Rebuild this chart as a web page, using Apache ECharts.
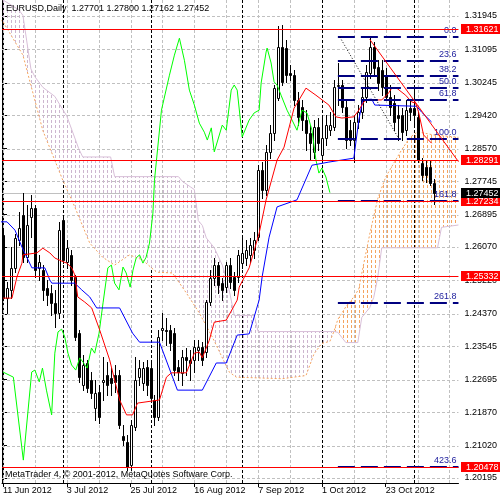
<!DOCTYPE html>
<html><head><meta charset="utf-8">
<script src="https://cdn.jsdelivr.net/npm/echarts@6/dist/echarts.min.js"></script>
<style>html,body{margin:0;padding:0;background:#fff}#c{width:500px;height:500px}</style>
</head><body><div id="c"></div>
<script>
// ---- DATA ----
const symbolTitle = 'EURUSD,Daily  1.27701 1.27800 1.27162 1.27452';
const copyright = 'MetaTrader 4, \u00A9 2001-2012, MetaQuotes Software Corp.';
const dateTickIdx = [0, 16, 32, 48, 64, 80, 96];
const dateTickText = ['11 Jun 2012','3 Jul 2012','25 Jul 2012','16 Aug 2012','7 Sep 2012','1 Oct 2012','23 Oct 2012'];
const priceTicks = [1.31945,1.31095,1.30245,1.29420,1.28570,1.27745,1.26895,1.26070,1.25220,1.24370,1.23545,1.22695,1.21870,1.21020,1.20195];
const monthSeparators = [15, 37, 60, 80, 103];
const gridVerticals = [0,8,16,24,32,40,48,56,64,72,80,88,96,104,112];

const opens = [1.2637,1.2477,1.2498,1.2554,1.2625,1.2688,1.2581,1.2683,1.2706,1.2554,
 1.2548,1.2503,1.2490,1.2465,1.2439,1.2676,1.2569,1.2587,1.2531,1.2388,
 1.2256,1.2312,1.2269,1.2198,1.2238,1.2264,1.2281,1.2274,1.2281,1.2281,
 1.2126,1.2111,1.2053,1.2149,1.2276,1.2261,1.2302,1.2299,1.2218,1.2175,
 1.2396,1.2396,1.2396,1.2388,1.2302,1.2287,1.2327,1.2320,1.2320,1.2345,
 1.2353,1.2340,1.2467,1.2528,1.2561,1.2515,1.2505,1.2561,1.2531,1.2531,
 1.2566,1.2579,1.2587,1.2599,1.2632,1.2803,1.2752,1.2849,1.2897,1.2986,
 1.3116,1.3113,1.3049,1.3044,1.2981,1.2963,1.2930,1.2897,1.2849,1.2912,
 1.2841,1.2884,1.2904,1.2912,1.3016,1.3019,1.2963,1.2904,1.2879,1.2925,
 1.2950,1.2988,1.3049,1.3116,1.3065,1.3057,1.3044,1.2988,1.2973,1.2943,
 1.2943,1.2904,1.2960,1.2960,1.2938,1.2821,1.2810,1.2810,1.27701];
const closes = [1.2477,1.2503,1.2554,1.2630,1.2655,1.2581,1.2663,1.2706,1.2548,1.2569,
 1.2498,1.2485,1.2465,1.2439,1.2650,1.2574,1.2604,1.2523,1.2378,1.2276,
 1.2307,1.2248,1.2236,1.2236,1.2175,1.2269,1.2256,1.2261,1.2264,1.2154,
 1.2116,1.2047,1.2154,1.2269,1.2299,1.2299,1.2256,1.2223,1.2175,1.2378,
 1.2401,1.2393,1.2363,1.2294,1.2289,1.2327,1.2320,1.2312,1.2353,1.2353,
 1.2320,1.2467,1.2528,1.2561,1.2510,1.2498,1.2561,1.2518,1.2498,1.2587,
 1.2592,1.2599,1.2612,1.2625,1.2803,1.2752,1.2849,1.2897,1.3011,1.3116,
 1.3027,1.3044,1.3044,1.2981,1.2938,1.2930,1.2897,1.2871,1.2912,1.2871,
 1.2884,1.2917,1.2917,1.3014,1.3019,1.2963,1.2879,1.2879,1.2925,1.2950,
 1.2988,1.3052,1.3116,1.3062,1.3024,1.3014,1.2988,1.2963,1.2925,1.2935,
 1.2899,1.2955,1.2950,1.2943,1.2828,1.2790,1.2790,1.2770,1.27452];
const highs = [1.2655,1.2518,1.2607,1.2640,1.2696,1.2744,1.2714,1.2739,1.2714,1.2587,
 1.2561,1.2523,1.2510,1.2498,1.2671,1.2688,1.2625,1.2599,1.2536,1.2396,
 1.2332,1.2320,1.2289,1.2269,1.2256,1.2327,1.2314,1.2299,1.2307,1.2294,
 1.2154,1.2129,1.2167,1.2327,1.2320,1.2314,1.2320,1.2314,1.2231,1.2396,
 1.2439,1.2426,1.2409,1.2401,1.2320,1.2345,1.2350,1.2345,1.2370,1.2370,
 1.2365,1.2472,1.2548,1.2579,1.2569,1.2528,1.2569,1.2579,1.2543,1.2599,
 1.2632,1.2625,1.2630,1.2645,1.2815,1.2823,1.2866,1.2917,1.3019,1.3169,
 1.3171,1.3133,1.3070,1.3057,1.3001,1.2981,1.2955,1.2917,1.2930,1.2935,
 1.2935,1.2943,1.2950,1.3032,1.3075,1.3032,1.2981,1.2930,1.2943,1.2968,
 1.3011,1.3070,1.3138,1.3128,1.3082,1.3082,1.3062,1.3019,1.2993,1.2968,
 1.2960,1.2981,1.2981,1.3019,1.2950,1.2833,1.2828,1.2828,1.27800];
const lows = [1.2472,1.2439,1.2477,1.2543,1.2612,1.2569,1.2569,1.2632,1.2531,1.2523,
 1.2472,1.2459,1.2434,1.2403,1.2426,1.2566,1.2554,1.2510,1.2370,1.2264,
 1.2243,1.2238,1.2223,1.2167,1.2159,1.2218,1.2231,1.2231,1.2238,1.2147,
 1.2103,1.2040,1.2040,1.2142,1.2256,1.2243,1.2231,1.2213,1.2154,1.2167,
 1.2370,1.2358,1.2345,1.2281,1.2269,1.2256,1.2281,1.2269,1.2289,1.2320,
 1.2307,1.2327,1.2459,1.2510,1.2490,1.2472,1.2492,1.2503,1.2485,1.2518,
 1.2554,1.2561,1.2569,1.2579,1.2625,1.2732,1.2739,1.2833,1.2879,1.2981,
 1.3019,1.3027,1.3032,1.2968,1.2917,1.2904,1.2854,1.2828,1.2833,1.2854,
 1.2823,1.2866,1.2892,1.2904,1.2968,1.2950,1.2859,1.2866,1.2823,1.2910,
 1.2935,1.2976,1.3037,1.3044,1.3006,1.2993,1.2981,1.2943,1.2904,1.2879,
 1.2879,1.2892,1.2930,1.2917,1.2823,1.2777,1.2772,1.2765,1.27162];

// Ichimoku lines: [bar index, price]
const tenkan = [[0,1.2477],[2.25,1.2477],[3.5,1.2531],[4.75,1.2566],[5,1.2587],[8.5,1.2592],[10,1.2604],[11.75,1.2592],[13,1.2579],[14.75,1.2571],[16,1.2566],[17.25,1.2554],[18,1.2536],[18.75,1.2480],[20.5,1.2467],[22.25,1.2452],[24.25,1.2396],[26.75,1.2320],[29.25,1.2218],[31,1.2180],[32.5,1.2180],[33.75,1.2210],[39.25,1.2218],[41,1.2276],[42.25,1.2287],[46,1.2287],[48,1.2337],[49.25,1.2340],[50,1.2325],[51.75,1.2370],[53,1.2416],[56,1.2421],[58.75,1.2472],[59.25,1.2505],[61.75,1.2554],[64.25,1.2642],[66,1.2727],[68.75,1.2828],[70.5,1.2861],[72.25,1.2930],[73,1.2960],[74.25,1.2981],[76,1.3011],[78.5,1.2993],[81.75,1.2968],[83.5,1.2938],[85,1.2935],[88,1.2938],[89.25,1.2955],[90.5,1.2976],[91.25,1.2981],[95,1.2981],[96.75,1.2999],[97.5,1.3011],[98.75,1.3011],[101,1.2993],[102.5,1.2976],[103.5,1.2973],[104.25,1.2950],[105.5,1.2892],[107.5,1.2871]];
const kijun = [[-0.75,1.2671],[1,1.2671],[3,1.2650],[4.75,1.2607],[7.25,1.2554],[10.5,1.2554],[11.75,1.2523],[12.25,1.2515],[18,1.2515],[19.75,1.2498],[21.75,1.2480],[23.5,1.2452],[29.25,1.2452],[32.5,1.2388],[34.25,1.2365],[39.25,1.2365],[43.75,1.2243],[50,1.2243],[53.5,1.2312],[56,1.2312],[58.75,1.2383],[61.75,1.2386],[64.25,1.2472],[65,1.2531],[66.75,1.2632],[68.75,1.2709],[73.75,1.2727],[77.5,1.2815],[81.75,1.2823],[88,1.2833],[89.25,1.2930],[90.25,1.2981],[92.5,1.2983],[93.25,1.2968],[103.75,1.2965],[105,1.2950],[107.5,1.2925]];
const chikou = [[0,1.2289],[2.6,1.2276],[5.1,1.2065],[7.2,1.2289],[8,1.2294],[9.1,1.2264],[9.9,1.2299],[10.9,1.2243],[12.2,1.2180],[13,1.2337],[13.8,1.2391],[14.7,1.2398],[15.5,1.2378],[16.3,1.2337],[17.2,1.2307],[18.25,1.2294],[19.25,1.2325],[20.1,1.2314],[21.1,1.2299],[22.2,1.2350],[23,1.2337],[24.1,1.2388],[25.1,1.2465],[26.3,1.2554],[27.2,1.2561],[28,1.2515],[29.1,1.2498],[30.1,1.2556],[30.9,1.2541],[31.9,1.2505],[32.6,1.2548],[33.4,1.2579],[34.25,1.2587],[35.1,1.2566],[35.9,1.2581],[36.75,1.2617],[37.6,1.2693],[38,1.2777],[39.75,1.2955],[41.75,1.3044],[43,1.3095],[44.25,1.3138],[45.5,1.3082],[46.75,1.3006],[48,1.2968],[49.25,1.2922],[50.5,1.2899],[51.25,1.2879],[52.25,1.2910],[53,1.2849],[55,1.2917],[56,1.2904],[57.25,1.3006],[58,1.3019],[58.75,1.3006],[60,1.2887],[61.75,1.2930],[63,1.2948],[64.25,1.2955],[64.75,1.3024],[66,1.3103],[66.25,1.3113],[67.25,1.3075],[68,1.3027],[68.75,1.3019],[69.75,1.2993],[71.25,1.2955],[72.5,1.2930],[73.75,1.2904],[75,1.2955],[76.25,1.2948],[77.5,1.2904],[78.5,1.2828],[79.25,1.2795],[80,1.2808],[81,1.2785],[82,1.27452]];
const spanA = [[-0.75,1.3185],[0,1.3180],[5,1.3095],[10,1.2903],[15,1.2777],[18,1.2709],[21.75,1.2617],[25,1.2581],[28,1.2561],[31.75,1.2587],[35,1.2574],[38.5,1.2543],[42.5,1.2541],[46,1.2490],[49.25,1.2439],[52.5,1.2378],[56.75,1.2289],[58.5,1.2276],[70,1.2272],[76,1.2280],[78,1.2335],[80,1.2362],[82,1.2367],[83,1.2392],[84,1.2423],[86,1.2455],[88,1.2480],[89.25,1.2500],[90,1.2540],[92,1.2640],[94,1.2730],[96,1.2785],[98,1.2820],[100,1.2854],[102,1.2885],[104,1.2900],[108,1.2892],[114.25,1.2886]];
const spanB = [[-0.75,1.3240],[4,1.3210],[5,1.3196],[7,1.3060],[8,1.3040],[10,1.3013],[13,1.2990],[16,1.2940],[19,1.2857],[20,1.2836],[27,1.2836],[28,1.2786],[44,1.2786],[45,1.2774],[47,1.2760],[48,1.2753],[49,1.2674],[50,1.2662],[51,1.2630],[53,1.2605],[55,1.2561],[56,1.2529],[57,1.2485],[58,1.2433],[63,1.2433],[64,1.2392],[83,1.2392],[84,1.2390],[85,1.2377],[86,1.2364],[89,1.2364],[90,1.2428],[92,1.2453],[93,1.2479],[94,1.2530],[95,1.2605],[109,1.2605],[110,1.2657],[114.25,1.2663]];
const cloudCross = 83; // bar where span A rises above span B

const userLines = [1.31621, 1.28291, 1.27234, 1.25332, 1.20478];
const bidPrice = 1.27452;
const fibNames = ['0.0','23.6','38.2','50.0','61.8','100.0','161.8','261.8','423.6'];
const fibPrices = [1.31409,1.30800,1.30423,1.30119,1.29814,1.28829,1.27234,1.24653,1.20478];
const fibStart = 84;
const fibBase = [[84.5,1.31409],[99.25,1.28829]];
const trendLine = [[92,1.3135],[114.25,1.2824]];

// ---- CHART ----
const X_MIN = -0.25, X_MAX = 114.25, Y_MIN = 1.20068, Y_MAX = 1.32352;
const FONT = '"Liberation Sans", Arial, sans-serif';
const chart = echarts.init(document.getElementById('c'), null, {renderer: 'canvas'});

function hatch(color) {
  const c = document.createElement('canvas');
  c.width = 4; c.height = 5;
  const g = c.getContext('2d');
  g.fillStyle = color;
  g.fillRect(3, 0, 1, 3);
  return c;
}
const thistleHatch = {image: hatch('#cdb6cf'), repeat: 'repeat'};
const sandyHatch = {image: hatch('#f4a460'), repeat: 'repeat'};

function cloudPolygon(from, to) {
  const a = spanA.filter(p => p[0] >= from && p[0] <= to);
  const b = spanB.filter(p => p[0] >= from && p[0] <= to).slice().reverse();
  return a.concat(b);
}
const cloudParts = [
  {pts: cloudPolygon(X_MIN - 1, cloudCross), fill: thistleHatch},
  {pts: cloudPolygon(cloudCross, X_MAX + 1), fill: sandyHatch}
];

const candleData = opens.map((o, i) => [i, o, closes[i], lows[i], highs[i]]);

function hLines(values, color, dash, z) {
  return {
    type: 'custom', silent: true, animation: false, z: z,
    data: values.map(v => [X_MIN, v]),
    renderItem(params, api) {
      const v = values[params.dataIndex];
      const a = api.coord([X_MIN, v]), b = api.coord([X_MAX, v]);
      const y = Math.round(a[1]) + 0.5;
      return {type: 'line', shape: {x1: a[0], y1: y, x2: b[0], y2: y},
        style: {stroke: color, lineWidth: 1, lineDash: dash}};
    }
  };
}
function vLines(values, color, dash, z) {
  return {
    type: 'custom', silent: true, animation: false, z: z,
    data: values.map(v => [v, Y_MIN]),
    renderItem(params, api) {
      const v = values[params.dataIndex];
      const a = api.coord([v, Y_MAX]), b = api.coord([v, Y_MIN]);
      const x = Math.round(a[0]) + 0.5;
      return {type: 'line', shape: {x1: x, y1: a[1], x2: x, y2: b[1]},
        style: {stroke: color, lineWidth: 1, lineDash: dash}};
    }
  };
}

const series = [];
series.push(hLines(priceTicks, '#c0c0c0', [3, 2], 1));
series.push(vLines(gridVerticals, '#c0c0c0', [3, 2], 1));
series.push(vLines(monthSeparators, '#000000', [3, 2], 1));
series.push({
  type: 'custom', silent: true, animation: false, z: 1,
  data: cloudParts.map((c, k) => [k]),
  renderItem(params, api) {
    const part = cloudParts[params.dataIndex];
    const pts = part.pts.map(p => api.coord(p));
    return {type: 'polygon', shape: {points: pts}, style: {fill: part.fill, stroke: null}};
  }
});
series.push({type: 'line', data: spanB, showSymbol: false, silent: true, animation: false, z: 1,
  lineStyle: {color: '#d8bfd8', width: 1}});
series.push({type: 'line', data: spanA, showSymbol: false, silent: true, animation: false, z: 1,
  lineStyle: {color: '#f4a460', width: 1, type: [2, 2]}});
series.push(hLines([bidPrice], '#c0c0c0', null, 2));
series.push({
  type: 'custom', silent: true, animation: false, data: candleData, z: 2,
  renderItem(params, api) {
    const i = api.value(0), o = api.value(1), c = api.value(2), l = api.value(3), h = api.value(4);
    const x = Math.round(api.coord([i, o])[0]);
    const yo = api.coord([i, o])[1], yc = api.coord([i, c])[1];
    const yl = Math.round(api.coord([i, l])[1]), yh = Math.round(api.coord([i, h])[1]);
    const top = Math.round(Math.min(yo, yc)), bot = Math.round(Math.max(yo, yc));
    const bull = c > o;
    return {type: 'group', children: [
      {type: 'line', shape: {x1: x + 0.5, y1: yh, x2: x + 0.5, y2: yl + 1}, style: {stroke: '#000', lineWidth: 1}},
      {type: 'rect', shape: {x: x - 0.5, y: top + 0.5, width: 2, height: Math.max(bot - top, 0)},
        style: {fill: bull ? '#fff' : '#000', stroke: '#000', lineWidth: 1}}
    ]};
  }
});
series.push({type: 'line', data: chikou, showSymbol: false, silent: true, animation: false, z: 3, lineStyle: {color: '#00ff00', width: 1}});
series.push({type: 'line', data: kijun, showSymbol: false, silent: true, animation: false, z: 3, lineStyle: {color: '#0000ff', width: 1}});
series.push({type: 'line', data: tenkan, showSymbol: false, silent: true, animation: false, z: 3, lineStyle: {color: '#ff0000', width: 1}});
series.push({
  type: 'custom', silent: true, animation: false, z: 4,
  data: fibPrices.map((p, k) => [fibStart, p]),
  renderItem(params, api) {
    const k = params.dataIndex;
    const p0 = api.coord([fibStart, fibPrices[k]]);
    const p1 = api.coord([X_MAX, fibPrices[k]]);
    const y = Math.round(p0[1]);
    return {type: 'group', children: [
      {type: 'line', shape: {x1: p0[0], y1: y, x2: p1[0], y2: y}, style: {stroke: '#000080', lineWidth: 2, lineDash: [17, 6]}},
      {type: 'text', x: p1[0] - 2, y: y - 2, style: {text: fibNames[k], fill: '#1c1c9c', font: '9px ' + FONT, align: 'right', verticalAlign: 'bottom'}}
    ]};
  }
});
series.push({type: 'line', data: fibBase, showSymbol: false, silent: true, animation: false, z: 4, lineStyle: {color: '#000', width: 1, type: [1, 2]}});
series.push({type: 'line', data: trendLine, showSymbol: false, silent: true, animation: false, z: 4, lineStyle: {color: '#ff0000', width: 1}});
series.push(hLines(userLines, '#ff0000', null, 5));
const tags = userLines.map(v => ({v, bg: '#ff0000'})).concat([{v: bidPrice, bg: '#000000'}]);
series.push({
  type: 'custom', silent: true, animation: false, clip: false, z: 10,
  data: tags.map(t => [X_MAX, t.v]),
  renderItem(params, api) {
    const t = tags[params.dataIndex];
    const p = api.coord([X_MAX, t.v]);
    const y = Math.round(p[1]);
    return {type: 'group', children: [
      {type: 'rect', shape: {x: 461, y: y - 5, width: 39, height: 10}, style: {fill: t.bg}},
      {type: 'text', x: 466, y: y + 0.5, style: {text: t.v.toFixed(5), fill: '#fff', font: '9px ' + FONT, verticalAlign: 'middle'}}
    ]};
  }
});

chart.setOption({
  animation: false,
  backgroundColor: '#fff',
  grid: {left: 2, right: 40, top: 0, bottom: 17},
  xAxis: {
    type: 'value', min: X_MIN, max: X_MAX,
    splitLine: {show: false},
    axisLine: {show: true, onZero: false, lineStyle: {color: '#000', width: 1}},
    axisTick: {show: true, customValues: dateTickIdx, length: 4, lineStyle: {color: '#000'}},
    axisLabel: {customValues: dateTickIdx, align: 'left', margin: 3, color: '#000', fontSize: 9, fontFamily: FONT,
      formatter: v => dateTickText[dateTickIdx.indexOf(Math.round(v))] || ''}
  },
  yAxis: [{
    type: 'value', position: 'right', min: Y_MIN, max: Y_MAX,
    splitLine: {show: false},
    axisLine: {show: true, lineStyle: {color: '#000', width: 1}},
    axisTick: {show: true, customValues: priceTicks, length: 4, lineStyle: {color: '#000'}},
    axisLabel: {customValues: priceTicks, margin: 6, color: '#000', fontSize: 9, fontFamily: FONT,
      formatter: v => v.toFixed(5)}
  }, {
    type: 'value', position: 'left', min: Y_MIN, max: Y_MAX,
    splitLine: {show: false}, axisTick: {show: false}, axisLabel: {show: false},
    axisLine: {show: true, lineStyle: {color: '#000', width: 1}}
  }],
  series: series,
  graphic: [
    {type: 'text', left: 6, top: 4, style: {text: symbolTitle, fill: '#000', font: '9px ' + FONT}, z: 100},
    {type: 'text', left: 5, top: 470, style: {text: copyright, fill: '#000', font: '9px ' + FONT}, z: 100}
  ]
});
</script>
</body></html>
